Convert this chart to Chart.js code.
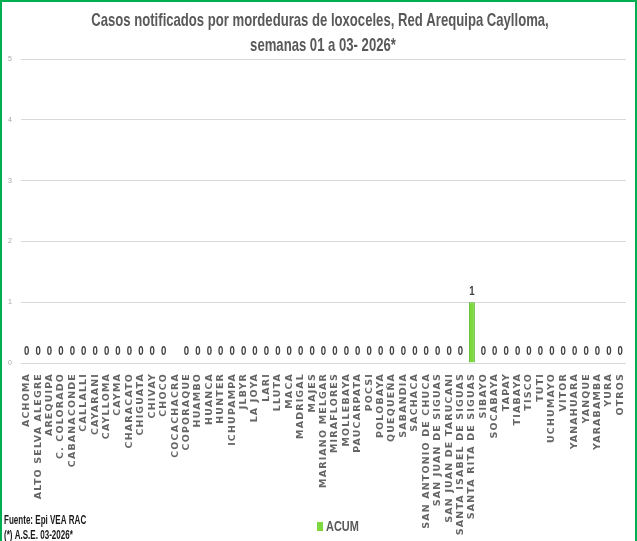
<!DOCTYPE html>
<html><head><meta charset="utf-8">
<script src="https://cdn.jsdelivr.net/npm/chart.js@4"></script>
<style>
html,body{margin:0;padding:0;background:#fff;}
#wrap{width:637px;height:541px;box-sizing:border-box;border:2px solid #00b050;border-bottom:none;position:relative;overflow:hidden;}
canvas{display:block;}
</style></head><body>
<div id="wrap"><canvas id="c" width="633" height="539"></canvas></div>
<script>
const categories = ["ACHOMA","ALTO SELVA ALEGRE","AREQUIPA","C. COLORADO","CABANACONDE","CALLALLI","CAYARANI","CAYLLOMA","CAYMA","CHARACATO","CHIGUATA","CHIVAY","CHOCO","COCACHACRA","COPORAQUE","HUAMBO","HUANCA","HUNTER","ICHUPAMPA","JLBYR","LA JOYA","LARI","LLUTA","MACA","MADRIGAL","MAJES","MARIANO MELGAR","MIRAFLORES","MOLLEBAYA","PAUCARPATA","POCSI","POLOBAYA","QUEQUEÑA","SABANDIA","SACHACA","SAN ANTONIO DE CHUCA","SAN JUAN DE SIGUAS","SAN JUAN DE TARUCANI","SANTA ISABEL DE SIGUAS","SANTA RITA DE SIGUAS","SIBAYO","SOCABAYA","TAPAY","TIABAYA","TISCO","TUTI","UCHUMAYO","VITOR","YANAHUARA","YANQUE","YARABAMBA","YURA","OTROS"];
const acum = [0,0,0,0,0,0,0,0,0,0,0,0,0,null,0,0,0,0,0,0,0,0,0,0,0,0,0,0,0,0,0,0,0,0,0,0,0,0,0,1,0,0,0,0,0,0,0,0,0,0,0,0,0];
const yTicks = [0,1,2,3,4,5];
const titleLines = ["Casos notificados por mordeduras de loxoceles, Red Arequipa Caylloma,","semanas 01 a 03- 2026*"];
const seriesName = "ACUM";
const footerLines = ["Fuente: Epi VEA RAC","(*) A.S.E. 03-2026*"];

const SANS = "'Liberation Sans',Arial,sans-serif";

function narrowText(ctx, text, x, y, font, sx, align, color){
  ctx.save();
  ctx.font = font;
  ctx.fillStyle = color;
  ctx.textAlign = align;
  ctx.textBaseline = 'middle';
  ctx.translate(x, y);
  ctx.scale(sx, 1);
  ctx.fillText(text, 0, 0);
  ctx.restore();
}

const extrasPlugin = {
  id:'extras',
  beforeDraw(chart){ chart.ctx.letterSpacing = '1.15px'; },
  beforeDatasetsDraw(chart){ chart.ctx.letterSpacing = '0px'; },
  afterDatasetsDraw(chart){
    const ctx = chart.ctx;
    ctx.letterSpacing = '0px';
    const meta = chart.getDatasetMeta(0);
    meta.data.forEach((el,i)=>{
      const v = acum[i];
      if (v === null || v === undefined) return;
      narrowText(ctx, String(v), el.x, el.y - 11, "bold 12px " + SANS, 0.8, 'center', '#404040');
    });
  },
  afterDraw(chart){
    const ctx = chart.ctx;
    ctx.letterSpacing = '0px';
    narrowText(ctx, titleLines[0], 318, 19, "bold 19px " + SANS, 0.69, 'center', '#595959');
    narrowText(ctx, titleLines[1], 321, 44, "bold 19px " + SANS, 0.69, 'center', '#595959');
    narrowText(ctx, footerLines[0], 2, 519, "bold 12px " + SANS, 0.67, 'left', '#1a1a1a');
    narrowText(ctx, footerLines[1], 2, 534, "bold 12px " + SANS, 0.67, 'left', '#1a1a1a');
    ctx.save();
    ctx.fillStyle = chart.data.datasets[0].backgroundColor;
    ctx.fillRect(315, 520, 6, 9);
    ctx.restore();
    narrowText(ctx, seriesName, 324, 525, "bold 15px " + SANS, 0.73, 'left', '#595959');
  }
};

new Chart(document.getElementById('c'), {
  type:'bar',
  data:{labels:categories, datasets:[{label:seriesName, data:acum, backgroundColor:'#7ed93f', borderColor:'#58b52c', borderWidth:1, categoryPercentage:0.55, barPercentage:0.95}]},
  options:{
    responsive:false, animation:false,
    layout:{padding:{left:0,right:9,top:57,bottom:0}},
    plugins:{
      legend:{display:false},
      tooltip:{enabled:false},
      title:{display:false}
    },
    scales:{
      x:{
        grid:{display:false}, border:{display:false},
        ticks:{autoSkip:false, minRotation:90, maxRotation:90, padding:2, color:'#666666', font:{family:"'DejaVu Sans',sans-serif", size:9.5, weight:'bold'}},
        afterFit(s){ s.height = 539-361; }
      },
      y:{
        min:0, max:5,
        afterBuildTicks(s){ s.ticks = yTicks.map(v=>({value:v})); },
        grid:{color:'#d9d9d9', drawTicks:false}, border:{display:false},
        ticks:{color:'#a6a6a6', font:{size:7}, padding:8},
        afterFit(s){ s.width = 19; }
      }
    }
  },
  plugins:[extrasPlugin]
});
</script></body></html>
